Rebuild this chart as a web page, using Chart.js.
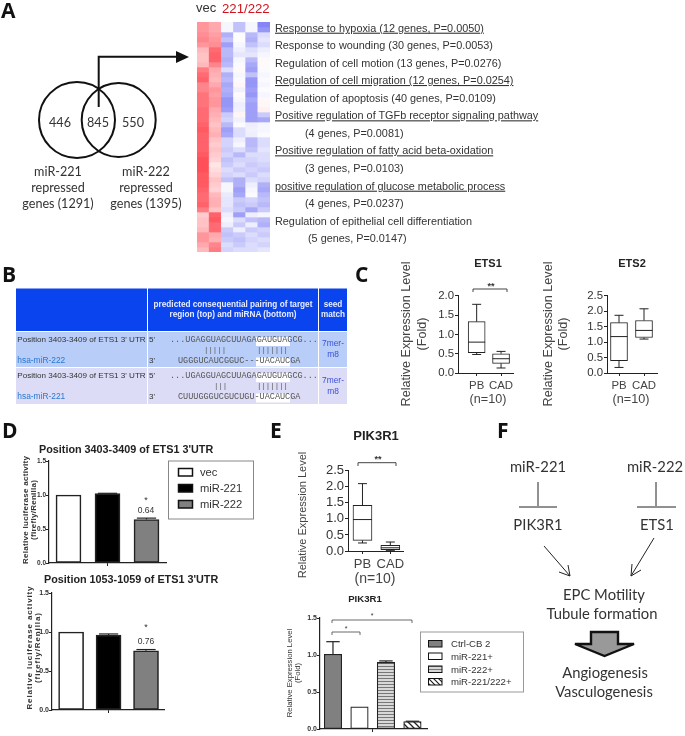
<!DOCTYPE html>
<html>
<head>
<meta charset="utf-8">
<title>miR-221/222 figure</title>
<script src="https://cdn.jsdelivr.net/npm/chart.js@4"></script>
<style>
    html, body { margin: 0; padding: 0; background: #fff; }
    #page { position: relative; width: 685px; height: 736px; overflow: hidden; }
    #page canvas { position: absolute; }
    #overlay { position: absolute; left: 0; top: 0; pointer-events: none; }
    text { font-family: "Liberation Sans", sans-serif; fill: #333; }
    .letter { font-family: "Open Sans", sans-serif; font-weight: 700; font-size: 21px; fill: #111; }
    .cal { font-family: Lato, sans-serif; font-size: 12.6px; text-anchor: middle; fill: #333; }
    .cal2 { font-family: Lato, sans-serif; font-size: 14.8px; text-anchor: middle; fill: #333; }
    .go { font-size: 10.85px; fill: #333; }
    .u { text-decoration: underline; }
    .mono { font-family: "Liberation Mono", monospace; font-size: 8.5px; fill: #555; }
    .pair { font-family: "Liberation Mono", monospace; font-size: 7.4px; fill: #555; }
    .mid { text-anchor: middle; }
    .hd { font-size: 8.2px; font-weight: 700; fill: #e8eeff; text-anchor: middle; }
    .cell { font-size: 8.1px; fill: #333; }
    .link { font-size: 8.4px; fill: #2a78d0; }
    .seed { font-size: 8.4px; fill: #3a50d8; text-anchor: middle; }
    .lab12 { font-size: 12.6px; text-anchor: middle; fill: #444; }
    .ttl { font-weight: 700; text-anchor: middle; fill: #222; }
    .bold8 { font-weight: 700; text-anchor: middle; font-size: 8px; }
</style>
</head>
<body>
<div id="page">
<svg id="overlay" width="685" height="736" viewBox="0 0 685 736">
    <defs>
        <pattern id="stripes" width="4" height="3" patternUnits="userSpaceOnUse">
            <rect width="4" height="3" fill="#d8d8d8"/><rect width="4" height="1" fill="#777"/>
        </pattern>
        <pattern id="hatch" width="5" height="5" patternUnits="userSpaceOnUse">
            <rect width="5" height="5" fill="#fff"/><path d="M-1 -1L6 6M-1 4L1 6M4 -1L6 1" stroke="#222" stroke-width="1.2"/>
        </pattern>
    </defs>

    <!-- A -->
    <text class="letter" x="1" y="18">A</text>
    <circle cx="77" cy="120" r="38" fill="none" stroke="#111" stroke-width="2"/>
    <circle cx="118.7" cy="120" r="37" fill="none" stroke="#111" stroke-width="2"/>
    <path d="M98.7 107V56.7H177" fill="none" stroke="#111" stroke-width="2"/>
    <path d="M176 51L189 57L176 63Z" fill="#111"/>
    <text class="cal" x="60" y="127">446</text>
    <text class="cal" x="98" y="127">845</text>
    <text class="cal" x="133" y="127">550</text>
    <text class="cal" x="58" y="176">miR-221</text>
    <text class="cal" x="58" y="192">repressed</text>
    <text class="cal" x="58" y="208">genes (1291)</text>
    <text class="cal" x="146" y="176">miR-222</text>
    <text class="cal" x="146" y="192">repressed</text>
    <text class="cal" x="146" y="208">genes (1395)</text>
    <text x="196" y="12" font-size="13">vec</text>
    <text x="222" y="13" font-size="13.2" style="fill:#d0141e">221/222</text>

    <text class="go u" x="275" y="31.7">Response to hypoxia (12 genes, P=0.0050)</text>
    <text class="go" x="275" y="49.3">Response to wounding (30 genes, P=0.0053)</text>
    <text class="go" x="275" y="66.7">Regulation of cell motion (13 genes, P=0.0276)</text>
    <text class="go u" x="275" y="84">Regulation of cell migration (12 genes, P=0.0254)</text>
    <text class="go" x="275" y="101.7">Regulation of apoptosis (40 genes, P=0.0109)</text>
    <text class="go u" x="275" y="119.3">Positive regulation of TGFb receptor signaling pathway</text>
    <text class="go" x="305" y="137">(4 genes, P=0.0081)</text>
    <text class="go u" x="275" y="154.3">Positive regulation of fatty acid beta-oxidation</text>
    <text class="go" x="305" y="172.3">(3 genes, P=0.0103)</text>
    <text class="go u" x="275" y="189.7">positive regulation of glucose metabolic process</text>
    <text class="go" x="305" y="207.3">(4 genes, P=0.0237)</text>
    <text class="go" x="275" y="224.7">Regulation of epithelial cell differentiation</text>
    <text class="go" x="308" y="242.3">(5 genes, P=0.0147)</text>

    <!-- B -->
    <text class="letter" x="2" y="282">B</text>
    <rect x="16" y="288.5" width="131" height="42.5" fill="#0a44ee"/>
    <rect x="148" y="288.5" width="170" height="42.5" fill="#0a44ee"/>
    <rect x="319" y="288.5" width="28" height="42.5" fill="#0a44ee"/>
    <rect x="16" y="332" width="131" height="35" fill="#b8cdf8"/>
    <rect x="148" y="332" width="170" height="35" fill="#b8cdf8"/>
    <rect x="319" y="332" width="28" height="35" fill="#b8cdf8"/>
    <rect x="16" y="368" width="131" height="36" fill="#dcdcf6"/>
    <rect x="148" y="368" width="170" height="36" fill="#dcdcf6"/>
    <rect x="319" y="368" width="28" height="36" fill="#dcdcf6"/>
    <rect x="256" y="337" width="34" height="9" fill="#fff"/>
    <rect x="256" y="357.5" width="34" height="9" fill="#fff"/>
    <rect x="256" y="373" width="34" height="9" fill="#fff"/>
    <rect x="256" y="393.5" width="34" height="9" fill="#fff"/>
    <text class="hd" x="233" y="307">predicted consequential pairing of target</text>
    <text class="hd" x="233" y="317">region (top) and miRNA (bottom)</text>
    <text class="hd" x="333" y="307">seed</text>
    <text class="hd" x="333" y="317">match</text>
    <text class="cell" x="17.3" y="342">Position 3403-3409 of ETS1 3' UTR</text>
    <text class="link" x="17.3" y="363">hsa-miR-222</text>
    <text class="cell" x="17.3" y="378">Position 3403-3409 of ETS1 3' UTR</text>
    <text class="link" x="17.3" y="399">hsa-miR-221</text>
    <text class="cell" x="149" y="342">5'</text>
    <text class="cell" x="149" y="363">3'</text>
    <text class="cell" x="149" y="378">5'</text>
    <text class="cell" x="149" y="399">3'</text>
    <text class="mono" x="170" y="342">...UGAGGUAGCUUAGAGAUGUAGCG...</text>
    <text class="pair" x="204" y="352">|||||</text>
    <text class="pair" x="257" y="352">|||||||</text>
    <text class="mono" x="178" y="362.5">UGGGUCAUCGGUC---UACAUCGA</text>
    <text class="mono" x="170" y="378">...UGAGGUAGCUUAGAGAUGUAGCG...</text>
    <text class="pair" x="214" y="388">|||</text>
    <text class="pair" x="257" y="388">|||||||</text>
    <text class="mono" x="178" y="399">CUUUGGGUCGUCUGU-UACAUCGA</text>
    <text class="seed" x="333" y="346">7mer-</text>
    <text class="seed" x="333" y="357">m8</text>
    <text class="seed" x="333" y="383">7mer-</text>
    <text class="seed" x="333" y="393.5">m8</text>

    <!-- C -->
    <text class="letter" x="355" y="282">C</text>
    <text class="ttl" x="488" y="267" font-size="11">ETS1</text>
    <text class="ttl" x="632" y="267" font-size="11">ETS2</text>
    <text class="lab12" transform="translate(410,334) rotate(-90)">Relative Expression Level</text>
    <text class="lab12" transform="translate(426,334) rotate(-90)">(Fold)</text>
    <text class="lab12" transform="translate(552,334) rotate(-90)">Relative Expression Level</text>
    <text class="lab12" transform="translate(567,334) rotate(-90)">(Fold)</text>
    <path d="M473 292V289H507V292" fill="none" stroke="#444" stroke-width="1"/>
    <text class="mid" x="491" y="289" font-size="9" font-weight="700">**</text>
    <text class="lab12" x="488" y="403">(n=10)</text>
    <text class="lab12" x="631" y="403">(n=10)</text>

    <!-- D -->
    <text class="letter" x="2" y="438">D</text>
    <text x="39" y="452.7" font-size="10.8" font-weight="700" style="fill:#222">Position 3403-3409 of ETS1 3'UTR</text>
    <text x="44" y="583" font-size="10.8" font-weight="700" style="fill:#222">Position 1053-1059 of ETS1 3'UTR</text>
    <text class="bold8" textLength="108" transform="translate(28,510) rotate(-90)">Relative luciferase activity</text>
    <text class="bold8" textLength="60" transform="translate(36,510) rotate(-90)">(firefly/Renilla)</text>
    <text class="bold8" textLength="123" transform="translate(32,648) rotate(-90)">Relative luciferase activity</text>
    <text class="bold8" textLength="70" transform="translate(40,648) rotate(-90)">(firefly/Renilla)</text>
    <text class="mid" x="146" y="503" font-size="9">*</text>
    <text class="mid" x="146" y="513" font-size="8.5">0.64</text>
    <text class="mid" x="146" y="630" font-size="9">*</text>
    <text class="mid" x="146" y="644" font-size="8.5">0.76</text>
    <rect x="168.5" y="461" width="85" height="58" fill="#fff" stroke="#888"/>
    <rect x="178.5" y="468.5" width="14" height="7.5" fill="#fff" stroke="#111" stroke-width="1.5"/>
    <rect x="178.5" y="484.5" width="14" height="7.5" fill="#000" stroke="#111" stroke-width="1.5"/>
    <rect x="178.5" y="500.5" width="14" height="7.5" fill="#808080" stroke="#111" stroke-width="1.5"/>
    <text x="200" y="476" font-size="11.2">vec</text>
    <text x="200" y="492" font-size="11.2">miR-221</text>
    <text x="200" y="508" font-size="11.2">miR-222</text>

    <!-- E -->
    <text class="letter" x="270" y="438">E</text>
    <text class="ttl" x="376" y="440" font-size="13">PIK3R1</text>
    <text class="mid" font-size="11" style="fill:#444" transform="translate(306,515) rotate(-90)">Relative Expression Level</text>
    <path d="M358 466V462.7H396V466" fill="none" stroke="#444" stroke-width="1"/>
    <text class="mid" x="378" y="462" font-size="9" font-weight="700">**</text>
    <text class="lab12" x="375" y="583" style="font-size:14px">(n=10)</text>
    <text class="ttl" x="365" y="602" font-size="9.6">PIK3R1</text>
    <text class="mid" font-size="7.7" transform="translate(292,673) rotate(-90)">Relative Expression Level</text>
    <text class="mid" font-size="7.7" transform="translate(300,673) rotate(-90)">(Fold)</text>
    <path d="M332 623V620H412V623" fill="none" stroke="#444" stroke-width="0.8"/>
    <path d="M332 635V632H360V635" fill="none" stroke="#444" stroke-width="0.8"/>
    <text class="mid" x="372" y="618" font-size="7">*</text>
    <text class="mid" x="346" y="631" font-size="7">*</text>
    <rect x="420.5" y="632" width="103" height="60" fill="#fff" stroke="#999"/>
    <rect x="428.5" y="640.5" width="13.5" height="6.5" fill="#808080" stroke="#111"/>
    <rect x="428.5" y="653" width="13.5" height="6.5" fill="#fff" stroke="#111"/>
    <rect x="428.5" y="666" width="13.5" height="6.5" fill="url(#stripes)" stroke="#111"/>
    <rect x="428.5" y="678.5" width="13.5" height="6.5" fill="url(#hatch)" stroke="#111"/>
    <text x="451" y="647" font-size="9.6">Ctrl-CB 2</text>
    <text x="451" y="659.5" font-size="9.6">miR-221+</text>
    <text x="451" y="672.5" font-size="9.6">miR-222+</text>
    <text x="451" y="685" font-size="9.6">miR-221/222+</text>

    <!-- F -->
    <text class="letter" x="497" y="438">F</text>
    <text class="cal2" x="538" y="472">miR-221</text>
    <text class="cal2" x="655" y="472">miR-222</text>
    <path d="M538 482V506M519 507H557M656 482V506M637 507H676" fill="none" stroke="#222" stroke-width="1"/>
    <text class="cal2" x="538" y="530">PIK3R1</text>
    <text class="cal2" x="657" y="530">ETS1</text>
    <path d="M544 546L570 576M570 576L568 565M570 576L559 572M654 538L631 576M631 576L632 564M631 576L641 570" fill="none" stroke="#222" stroke-width="1"/>
    <text class="cal2" x="604" y="600">EPC Motility</text>
    <text class="cal2" x="602" y="619">Tubule formation</text>
    <path d="M591 632H618V644H634L604.5 656L575 644H591Z" fill="#999" stroke="#111" stroke-width="2.4"/>
    <text class="cal2" x="605" y="678">Angiogenesis</text>
    <text class="cal2" x="604" y="697">Vasculogenesis</text>
</svg>
</div>

<script>
// panel A heatmap, one row per band, columns vec vec 221/222 x4 (+ red, - blue)
const heatRows = [
    [.6,.5,-.05,-.35,-.05,-.7], [.6,.5,-.05,-.35,-.05,-.6], [.65,.55,-.45,-.02,-.4,-.2],
    [.7,.6,-.35,-.02,-.45,-.15], [.6,.65,-.55,-.05,-.35,-.2], [.4,.85,-.4,-.1,-.2,-.1],
    [.35,.9,-.4,-.15,-.15,-.05], [.35,.9,-.45,-.05,-.4,.03], [.4,.7,-.4,-.03,-.5,.03],
    [.75,.5,-.2,.03,-.55,-.03], [.85,.45,-.45,-.05,-.35,-.05], [.9,.4,-.4,-.03,-.6,-.03],
    [.7,.5,-.5,.05,-.6,-.05], [.7,.6,-.45,-.08,-.55,-.02], [.8,.55,-.5,.03,-.6,-.05],
    [.8,.6,-.6,-.05,-.5,.04], [.8,.6,-.6,-.1,-.55,.05], [.85,.5,-.55,-.08,-.55,.08],
    [.85,.45,-.3,.06,-.55,-.3], [.85,.4,-.25,-.08,-.55,-.5], [.9,.35,-.4,-.03,-.1,-.05],
    [.95,.4,-.55,-.2,-.08,-.05], [.9,.45,-.5,-.2,-.1,-.03], [.9,.35,-.25,-.1,-.4,-.2],
    [.9,.3,-.25,-.05,-.4,-.2], [.9,.35,-.3,-.2,-.35,-.15], [.95,.3,-.25,-.4,-.2,-.2],
    [1,.25,-.35,-.25,-.25,-.2], [1,.15,-.3,-.2,-.3,-.25], [1,.2,-.2,-.3,-.25,-.3],
    [.95,.25,-.25,-.2,-.3,-.2], [.95,.35,-.35,-.45,-.2,-.25], [.95,.3,-.05,-.45,-.1,-.45],
    [.9,.25,-.05,-.55,-.05,-.5], [.85,.4,-.12,-.5,-.03,-.4], [.85,.45,-.15,-.3,-.25,-.35],
    [.9,.45,-.15,-.35,-.3,-.4], [.75,.35,-.2,-.3,-.5,-.3], [.3,.9,-.1,-.55,-.1,-.05],
    [.35,.95,-.05,-.2,-.35,-.4], [.35,.85,-.1,-.3,-.1,-.45], [.4,.85,-.3,-.1,-.3,-.25],
    [.6,.5,-.35,-.3,-.2,-.3], [.6,.45,-.3,-.35,-.25,-.2], [.5,.7,-.2,-.3,-.2,-.25],
    [.4,.75,-.25,-.2,-.2,-.15]
];
const heatColumns = ['vec1', 'vec2', 'm1', 'm2', 'm3', 'm4'];

// box plots: PB, CAD
const boxLabels = ['PB', 'CAD'];
const ets1Min = [0.48, 0.13], ets1Q1 = [0.53, 0.25], ets1Med = [0.8, 0.37], ets1Q3 = [1.33, 0.5], ets1Max = [1.78, 0.56];
const ets2Min = [0.18, 1.1], ets2Q1 = [0.4, 1.15], ets2Med = [1.18, 1.38], ets2Q3 = [1.63, 1.7], ets2Max = [1.87, 2.08];
const pikMin = [0.25, 0.02], pikQ1 = [0.33, 0.04], pikMed = [0.98, 0.1], pikQ3 = [1.42, 0.18], pikMax = [2.1, 0.28];

// luciferase bars: vec, miR-221, miR-222
const lucTop = [1.0, 1.02, 0.64], lucTopErr = [0, 0.005, 0.02];
const lucBottom = [1.0, 0.96, 0.76], lucBottomErr = [0, 0.015, 0.015];

// PIK3R1 bars: Ctrl-CB 2, miR-221+, miR-222+, miR-221/222+
const pikBars = [1.01, 0.3, 0.9, 0.1], pikBarsErr = [0.17, 0, 0.02, 0.005];

const blk = '#222';

function heatColor(v) {
    const a = Math.min(Math.abs(v), 1);
    const to = v >= 0 ? [255, 80, 90] : [80, 80, 240];
    const c = to.map(t => Math.round(255 + (t - 255) * a));
    return `rgb(${c[0]},${c[1]},${c[2]})`;
}

function stripes() {
    const c = document.createElement('canvas');
    c.width = 4; c.height = 3;
    const g = c.getContext('2d');
    g.fillStyle = '#d8d8d8'; g.fillRect(0, 0, 4, 3);
    g.fillStyle = '#777'; g.fillRect(0, 0, 4, 1);
    return g.createPattern(c, 'repeat');
}

function hatch() {
    const c = document.createElement('canvas');
    c.width = 6; c.height = 6;
    const g = c.getContext('2d');
    g.fillStyle = '#fff'; g.fillRect(0, 0, 6, 6);
    g.strokeStyle = '#222'; g.lineWidth = 1.3;
    g.beginPath();
    g.moveTo(-1, -1); g.lineTo(7, 7);
    g.moveTo(-1, 5); g.lineTo(1, 7);
    g.moveTo(5, -1); g.lineTo(7, 1);
    g.stroke();
    return g.createPattern(c, 'repeat');
}

// whiskers, medians and error bars, all through the chart's scales
const marksPlugin = {
    id: 'marks',
    afterDatasetsDraw(chart, args, opts) {
        const g = chart.ctx, x = chart.scales.x, y = chart.scales.y;
        if (!opts.med && !opts.err) return;
        g.save();
        g.strokeStyle = blk;
        g.lineWidth = opts.lineWidth || 1;
        const seg = (x1, y1, x2, y2) => {
            g.beginPath(); g.moveTo(x1, y1); g.lineTo(x2, y2); g.stroke();
        };
        (opts.med || []).forEach((m, i) => {
            const px = x.getPixelForValue(i + 1), w = opts.thick / 2, cap = opts.cap;
            seg(px - w, y.getPixelForValue(m), px + w, y.getPixelForValue(m));
            seg(px, y.getPixelForValue(opts.q3[i]), px, y.getPixelForValue(opts.max[i]));
            seg(px, y.getPixelForValue(opts.q1[i]), px, y.getPixelForValue(opts.min[i]));
            seg(px - cap, y.getPixelForValue(opts.max[i]), px + cap, y.getPixelForValue(opts.max[i]));
            seg(px - cap, y.getPixelForValue(opts.min[i]), px + cap, y.getPixelForValue(opts.min[i]));
        });
        (opts.err || []).forEach((e, i) => {
            if (!e) return;
            const px = x.getPixelForValue(i + 1), v = opts.values[i], cap = opts.cap;
            seg(px, y.getPixelForValue(v), px, y.getPixelForValue(v + e));
            seg(px - cap, y.getPixelForValue(v + e), px + cap, y.getPixelForValue(v + e));
        });
        g.restore();
    }
};
Chart.register(marksPlugin);

const page = document.getElementById('page');

function addCanvas(left, top, width, height) {
    const c = document.createElement('canvas');
    c.width = width; c.height = height;
    c.style.left = left + 'px';
    c.style.top = top + 'px';
    c.style.width = width + 'px';
    c.style.height = height + 'px';
    page.insertBefore(c, page.firstChild);
    return c;
}

// axisX/right/top/bottom are the plot area edges on the page
function addPlot(o) {
    const leftW = 40, padTop = 6, padRight = 4, bottomH = 26;
    const canvas = addCanvas(o.axisX - leftW, o.top - padTop,
        o.right - o.axisX + leftW + padRight, o.bottom - o.top + padTop + bottomH);
    return new Chart(canvas, {
        type: 'bar',
        data: {
            datasets: [{
                data: o.data,
                backgroundColor: o.fill,
                borderColor: blk,
                borderWidth: o.border,
                borderSkipped: false,
                barThickness: o.thick
            }]
        },
        options: {
            responsive: false,
            animation: false,
            layout: { padding: { top: padTop, right: padRight } },
            plugins: { legend: { display: false }, tooltip: { enabled: false }, marks: o.marks },
            scales: {
                x: {
                    type: 'linear',
                    offset: false,
                    min: o.xMin,
                    max: o.xMax,
                    afterFit(axis) { axis.height = bottomH; },
                    afterBuildTicks(axis) { axis.ticks = o.xTicks.map(v => ({ value: v })); },
                    grid: { offset: false, drawOnChartArea: false, color: blk, tickLength: 3 },
                    border: { color: blk, width: o.axisW },
                    ticks: {
                        autoSkip: false,
                        maxRotation: 0,
                        padding: 3,
                        color: '#444',
                        font: { family: 'Liberation Sans', size: o.xFont || 11 },
                        callback: v => o.xLabels ? o.xLabels[v - 1] : ''
                    }
                },
                y: {
                    min: 0,
                    max: o.yMax,
                    afterFit(axis) { axis.width = leftW; },
                    grid: { drawOnChartArea: false, color: blk, tickLength: 3 },
                    border: { color: blk, width: o.axisW },
                    ticks: {
                        stepSize: 0.5,
                        autoSkip: false,
                        padding: o.yPad,
                        color: '#333',
                        font: { family: 'Liberation Sans', size: o.tickSize, weight: o.tickBold ? '700' : '400' },
                        callback: v => v.toFixed(1)
                    }
                }
            }
        }
    });
}

function addBox(axisX, right, top, bottom, yMax, xMin, xMax, thick, font, mn, q1, med, q3, mx) {
    addPlot({
        axisX, right, top, bottom, yMax, xMin, xMax,
        xTicks: [1, 2], xLabels: boxLabels, xFont: font,
        data: q1.map((v, i) => ({ x: i + 1, y: [v, q3[i]] })),
        fill: '#fff', border: 1, thick, axisW: 1, tickSize: font, yPad: 1,
        marks: { med, q1, q3, min: mn, max: mx, thick, cap: 4.5 }
    });
}

function addBars(axisX, right, top, bottom, xMin, xMax, values, err, fill, thick, border, tickSize) {
    addPlot({
        axisX, right, top, bottom, yMax: 1.5, xMin, xMax,
        xTicks: [(values.length + 1) / 2],
        data: values.map((v, i) => ({ x: i + 1, y: v })),
        fill, border, thick, axisW: 1.2, tickSize, tickBold: true, yPad: 0,
        marks: { err, values, cap: thick / 2.6, lineWidth: 1.2 }
    });
}

// heatmap: one stacked dataset per row, each row one unit tall
const heatCanvas = addCanvas(197, 22, 73, 230);
heatCanvas.style.filter = 'blur(0.5px)';
new Chart(heatCanvas, {
    type: 'bar',
    data: {
        labels: heatColumns,
        datasets: heatRows.map(row => ({
            data: row.map(() => 1),
            backgroundColor: row.map(heatColor),
            borderWidth: 0,
            barPercentage: 1,
            categoryPercentage: 1
        }))
    },
    options: {
        responsive: false,
        animation: false,
        plugins: { legend: { display: false }, tooltip: { enabled: false } },
        scales: {
            x: { stacked: true, display: false },
            y: { stacked: true, display: false, reverse: true, min: 0, max: heatRows.length }
        }
    }
});

addBox(458, 513, 294, 373, 2.0, 0.235, 2.49, 17, 11.4, ets1Min, ets1Q1, ets1Med, ets1Q3, ets1Max);
addBox(607, 657, 294, 373, 2.5, 0.52, 2.52, 17, 11.4, ets2Min, ets2Q1, ets2Med, ets2Q3, ets2Max);
addBox(348, 404, 468, 551, 2.5, 0.48, 2.48, 19, 13, pikMin, pikQ1, pikMed, pikQ3, pikMax);

addBars(49, 166, 461, 563, 0.5, 3.5, lucTop, lucTopErr, ['#fff', '#000', '#808080'], 25, 1.6, 6.5);
addBars(52, 164, 593, 710, 0.49, 3.48, lucBottom, lucBottomErr, ['#fff', '#000', '#808080'], 25, 1.6, 7);
addBars(320, 427, 618, 729, 0.51, 4.55, pikBars, pikBarsErr, ['#808080', '#fff', stripes(), hatch()], 17.5, 1.2, 7);
</script>
</body>
</html>
